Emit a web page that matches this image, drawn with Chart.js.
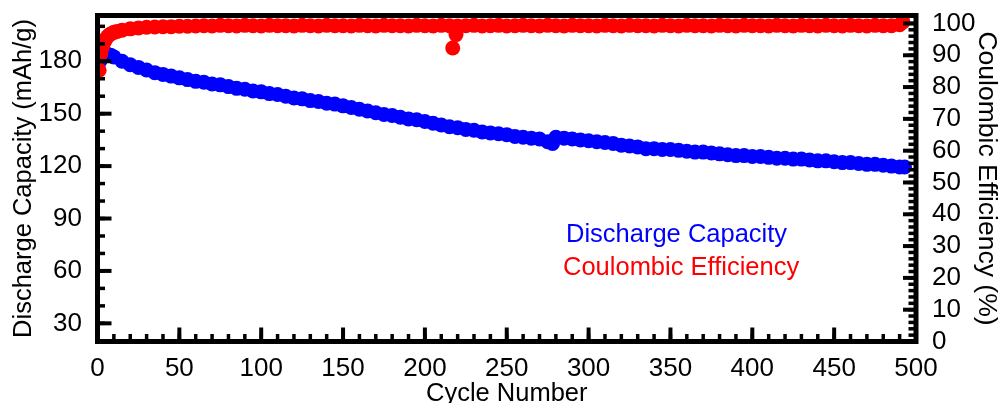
<!DOCTYPE html>
<html>
<head>
<meta charset="utf-8">
<title>Discharge Capacity and Coulombic Efficiency</title>
<script src="https://cdn.jsdelivr.net/npm/chart.js@4/dist/chart.umd.min.js"></script>
<style>
  html, body { margin: 0; padding: 0; background: #fff; }
  #wrap { width: 1003px; height: 403px; position: relative; }
</style>
</head>
<body>
<div id="wrap"><canvas id="chart"></canvas></div>
<script>
  // Discharge capacity (left axis, mAh/g).
  const capacityCycles = [1, 2, 3, 4, 5, 6, 8, 10, 15, 20, 25, 30, 35, 40, 45, 50, 55, 60, 65, 70,
    75, 80, 85, 90, 95, 100, 105, 110, 115, 120, 125, 130, 135, 140, 145, 150, 155, 160, 165, 170,
    175, 180, 185, 190, 195, 200, 205, 210, 215, 220, 225, 230, 235, 240, 245, 250, 255, 260, 265, 270,
    275, 278, 280, 285, 290, 295, 300, 305, 310, 315, 320, 325, 330, 335, 340, 345, 350, 355, 360, 365,
    370, 375, 380, 385, 390, 395, 400, 405, 410, 415, 420, 425, 430, 435, 440, 445, 450, 455, 460, 465,
    470, 475, 480, 485, 490, 493];
  const capacityValues = [179.5, 181, 182.5, 183.5, 184, 184, 183.5, 182.5, 180, 178, 176.5, 175, 173.5, 172.5, 171.5, 170.5, 169.5, 168.5, 168, 167,
    166.5, 165.5, 164.5, 164, 163, 162.5, 161.5, 161, 160, 159, 158.5, 157.5, 157, 156, 155.5, 154.5, 153.5, 152.5, 151.5, 150.5,
    149.5, 149, 148, 147, 146.5, 145.5, 144.5, 143.5, 142.5, 142, 141, 140.5, 139.5, 139, 138.5, 138, 137, 136.5, 136, 135.5,
    134, 133, 136.5, 136, 135.5, 135, 134.5, 134, 133.5, 133, 132, 131.5, 131, 130, 130, 129.5, 129.5, 129, 128.5, 128,
    128, 127.5, 127, 126.5, 126, 126, 125.5, 125.5, 125, 124.5, 124.5, 124, 124, 123.5, 123, 123, 122.5, 122, 122, 121.5,
    121, 121, 120.5, 120, 119.5, 119.5];

  // Coulombic efficiency (right axis, %).
  const efficiencyCycles = [1, 2, 3, 4, 5, 6, 7, 8, 10, 12, 15, 20, 25, 30, 35, 40, 45, 50, 55, 60,
    65, 70, 75, 80, 85, 90, 95, 100, 105, 110, 115, 120, 125, 130, 135, 140, 145, 150, 155, 160,
    165, 170, 175, 180, 185, 190, 195, 200, 205, 210, 215, 217, 219, 220, 225, 230, 235, 240, 245, 250,
    255, 260, 265, 270, 275, 280, 285, 290, 295, 300, 305, 310, 315, 320, 325, 330, 335, 340, 345, 350,
    355, 360, 365, 370, 375, 380, 385, 390, 395, 400, 405, 410, 415, 420, 425, 430, 435, 440, 445, 450,
    455, 460, 465, 470, 475, 480, 485, 490, 492];
  const efficiencyValues = [85.3, 90.5, 92.5, 94, 95, 95.8, 96.3, 96.7, 97.2, 97.5, 97.9, 98.3, 98.6, 98.8, 98.9, 99.0, 99.0, 99.1, 99.1, 99.2,
    99.3, 99.2, 99.4, 99.3, 99.2, 99.4, 99.3, 99.2, 99.4, 99.3, 99.3, 99.2, 99.4, 99.3, 99.2, 99.4, 99.3, 99.3, 99.2, 99.4,
    99.3, 99.2, 99.4, 99.3, 99.3, 99.2, 99.4, 99.3, 99.2, 99.4, 99.3, 92.3, 96.5, 99.2, 99.3, 99.4, 99.2, 99.3, 99.4, 99.2,
    99.3, 99.4, 99.3, 99.2, 99.4, 99.3, 99.2, 99.4, 99.3, 99.3, 99.2, 99.4, 99.3, 99.2, 99.4, 99.3, 99.3, 99.2, 99.4, 99.3,
    99.2, 99.4, 99.3, 99.3, 99.2, 99.4, 99.3, 99.2, 99.4, 99.3, 99.3, 99.2, 99.4, 99.3, 99.2, 99.4, 99.3, 99.2, 99.4, 99.3,
    99.2, 99.4, 99.3, 99.2, 99.4, 99.3, 99.3, 99.6, 100.5];

  // Tick labels.
  const cycleTicks = [0, 50, 100, 150, 200, 250, 300, 350, 400, 450, 500];
  const capacityTicks = [30, 60, 90, 120, 150, 180];
  const efficiencyTicks = [0, 10, 20, 30, 40, 50, 60, 70, 80, 90, 100];

  const FONT = "'Liberation Sans', Arial, sans-serif";
  const BLUE = "#0000ff";
  const RED = "#ff0000";

  function toPoints(xs, ys) {
    return xs.map((x, i) => ({ x: x, y: ys[i] }));
  }

  function fixTicks(values) {
    return function(scale) {
      scale.ticks = values.map(v => ({ value: v }));
    };
  }

  // fixed axis box size, and no extra label padding pushed onto the plot area
  function fixSize(size) {
    return function(scale) {
      if (scale.isHorizontal()) scale.height = size;
      else scale.width = size;
      scale.paddingTop = 0;
      scale.paddingBottom = 0;
      scale.paddingLeft = 0;
      scale.paddingRight = 0;
    };
  }

  // minor tick values between min and max with a given step
  function minorTicks(from, to, step) {
    const out = [];
    for (let v = from; v <= to + 1e-9; v += step) out.push(v);
    return out;
  }

  // -------------------------------------------------------------------
  // Frame, inward tick marks and the text legend.
  // -------------------------------------------------------------------
  const framePlugin = {
    id: "frame",
    afterDatasetsDraw(chart) {
      const ctx = chart.ctx;
      const a = chart.chartArea;
      const s = chart.scales;
      ctx.save();
      ctx.strokeStyle = "#000";
      ctx.lineCap = "butt";

      function marks(scale, values, len, width) {
        ctx.lineWidth = width;
        values.forEach(v => {
          const p = scale.getPixelForValue(v);
          ctx.beginPath();
          if (scale.id === "x") {
            ctx.moveTo(p, a.bottom);
            ctx.lineTo(p, a.bottom - len);
          } else if (scale.id === "y") {
            ctx.moveTo(a.left, p);
            ctx.lineTo(a.left + len, p);
          } else {
            ctx.moveTo(a.right, p);
            ctx.lineTo(a.right - len, p);
          }
          ctx.stroke();
        });
      }

      marks(s.x, minorTicks(0, 500, 10), 7.5, 3.5);
      marks(s.x, cycleTicks, 14, 4);
      marks(s.y, minorTicks(20, 200, 10), 7.5, 3.5);
      marks(s.y, capacityTicks, 14, 4);
      marks(s.y1, minorTicks(0, 100, 2), 7.5, 3.5);
      marks(s.y1, efficiencyTicks, 13, 4);

      ctx.lineWidth = 5;
      ctx.strokeRect(a.left, a.top, a.right - a.left, a.bottom - a.top);

      // legend as plain coloured text
      ctx.font = "25.5px " + FONT;
      ctx.textAlign = "left";
      ctx.textBaseline = "alphabetic";
      const ds = chart.data.datasets;
      ctx.fillStyle = ds[1].backgroundColor;
      ctx.fillText(ds[1].label, 566, 242);
      ctx.fillStyle = ds[0].backgroundColor;
      ctx.fillText(ds[0].label, 563, 275);
      ctx.restore();
    }
  };

  const tickFont = { family: FONT, size: 26 };
  const titleFont = { family: FONT, size: 25.5, lineHeight: 1 };

  const ctx = document.getElementById("chart").getContext("2d");
  new Chart(ctx, {
    type: "scatter",
    data: {
      datasets: [
        {
          label: "Coulombic Efficiency",
          data: toPoints(efficiencyCycles, efficiencyValues),
          yAxisID: "y1",
          backgroundColor: RED,
          borderColor: RED,
          borderWidth: 0,
          pointRadius: 7.5,
          order: 1,
          clip: 0
        },
        {
          label: "Discharge Capacity",
          data: toPoints(capacityCycles, capacityValues),
          yAxisID: "y",
          backgroundColor: BLUE,
          borderColor: BLUE,
          borderWidth: 0,
          pointRadius: 7.5,
          order: 2,
          clip: 0
        }
      ]
    },
    options: {
      responsive: true,
      maintainAspectRatio: false,
      animation: false,
      events: [],
      layout: { padding: { top: 15.5, left: 0, right: 0, bottom: 0 } },
      plugins: {
        legend: { display: false },
        tooltip: { enabled: false }
      },
      scales: {
        x: {
          type: "linear",
          position: "bottom",
          min: 0,
          max: 500,
          afterBuildTicks: fixTicks(cycleTicks),
          afterFit: fixSize(61.5),
          grid: { display: false, drawTicks: false },
          border: { display: false },
          ticks: {
            autoSkip: false,
            maxRotation: 0,
            padding: 12,
            color: "#000",
            font: tickFont
          },
          title: {
            display: true,
            text: "Cycle Number",
            color: "#000",
            padding: { top: 0, bottom: -4 },
            font: titleFont
          }
        },
        y: {
          type: "linear",
          position: "left",
          min: 19.6,
          max: 206.2,
          afterBuildTicks: fixTicks(capacityTicks),
          afterFit: fixSize(97.5),
          grid: { display: false, drawTicks: false },
          border: { display: false },
          ticks: {
            autoSkip: false,
            padding: 15.5,
            color: "#000",
            font: tickFont
          },
          title: {
            display: true,
            text: "Discharge Capacity (mAh/g)",
            color: "#000",
            padding: { top: 11.5, bottom: 0 },
            font: titleFont
          }
        },
        y1: {
          type: "linear",
          position: "right",
          min: 0,
          max: 102.5,
          afterBuildTicks: fixTicks(efficiencyTicks),
          afterFit: fixSize(87),
          grid: { display: false, drawTicks: false },
          border: { display: false },
          ticks: {
            autoSkip: false,
            padding: 16,
            color: "#000",
            font: tickFont
          },
          title: {
            display: true,
            text: "Coulombic Efficiency (%)",
            color: "#000",
            padding: { top: 3, bottom: 0 },
            font: { family: FONT, size: 26.5, lineHeight: 1 }
          }
        }
      }
    },
    plugins: [framePlugin]
  });
</script>
</body>
</html>
